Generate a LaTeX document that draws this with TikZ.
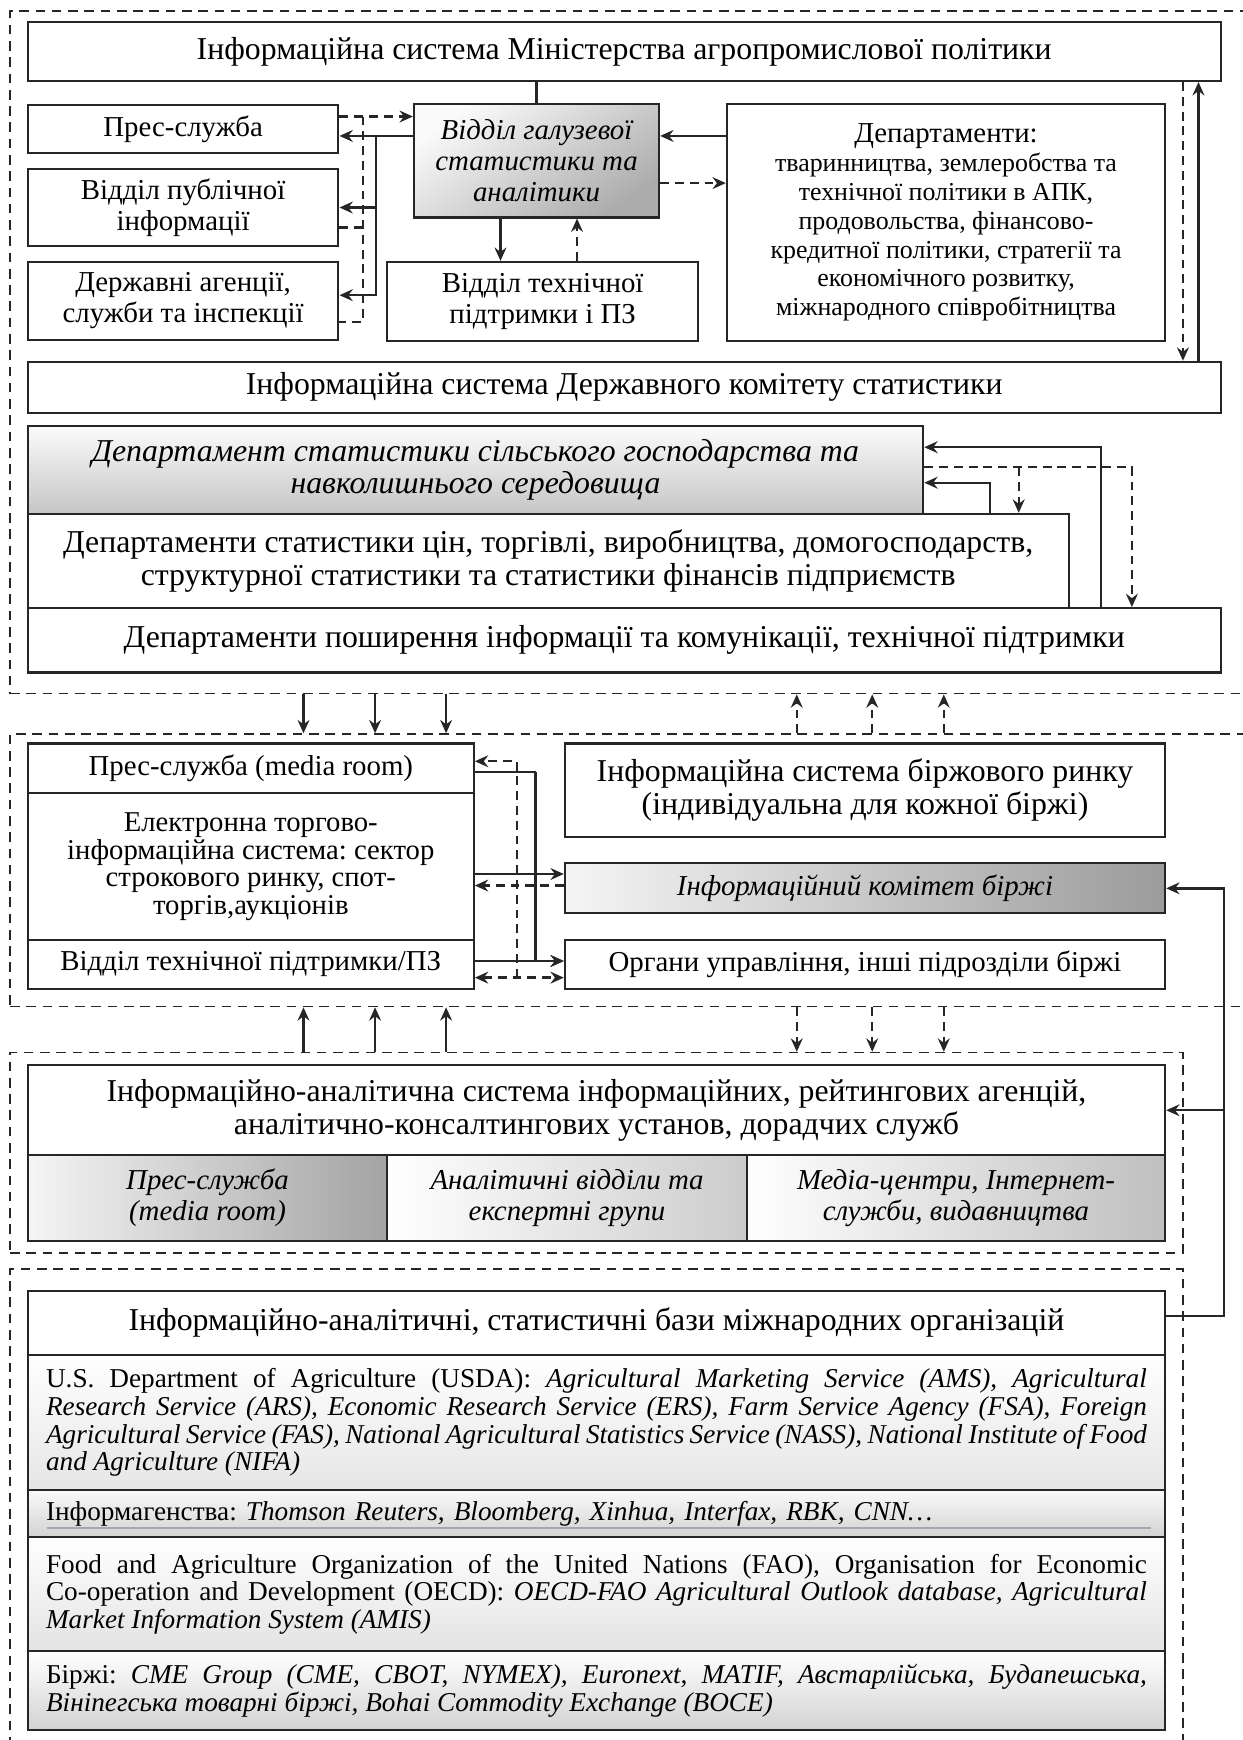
\documentclass[tikz,border=0pt]{standalone}
\usepackage{fontspec}
\setmainfont{Liberation Serif}
\usetikzlibrary{arrows.meta}

\begin{document}
\frenchspacing
\begin{tikzpicture}[x=0.75pt,y=0.75pt,yscale=-1,xscale=1,
  >={Stealth[length=9pt,width=8pt,inset=3pt]},
  box/.style={draw=black!85,line width=1.4pt,fill=white,inner sep=0pt,align=center},
  grpframe/.style={draw=black!85,line width=1.1pt,dash pattern=on 6.5pt off 4.5pt,inner sep=0pt},
  lnk/.style={draw=black!85,line width=1.6pt},
  dlnk/.style={lnk,dash pattern=on 6pt off 4pt},
  big/.style={font=\fontsize{21.5}{22}\selectfont},
  bigit/.style={font=\fontsize{21.5}{22}\selectfont\itshape},
  mid/.style={font=\fontsize{19.5}{21}\selectfont},
  midit/.style={font=\fontsize{19.5}{21}\selectfont\itshape},
  sml/.style={font=\fontsize{18.4}{18.75}\selectfont},
  introw/.style={box,sml,text width=744pt,align=justify,minimum width=768.75pt},
]
\useasboundingbox (0,0) rectangle (1120,1568);

%Shape: Rectangle (dashed groups)
\node[grpframe,minimum width=848.25pt,minimum height=461.25pt] (g1) at (574.5,317.5) {};
\node[grpframe,minimum width=848.25pt,minimum height=184.125pt] (g2) at (574.5,784.25) {};
\node[grpframe,minimum width=792.75pt,minimum height=135.375pt] (g3) at (537.5,1038.75) {};
\node[grpframe,minimum width=792.75pt,minimum height=342.3pt] (g4) at (537.5,1371.8) {};

%Shape: Rectangle (ministry)
\node[box,big,minimum width=806.25pt,minimum height=39.75pt] (minis) at (562.5,46.5) {Інформаційна система Міністерства агропромислової політики};
\node[box,mid,minimum width=210pt,minimum height=32.25pt] (press) at (165,116.5) {Прес-служба};
\node[box,mid,minimum width=210pt,minimum height=52.5pt] (pubinfo) at (165,187) {Відділ публічної\\інформації};
\node[box,mid,minimum width=210pt,minimum height=52.5pt] (agencies) at (165,271) {Державні агенції,\\служби та інспекції};
\node[box,midit,minimum width=165.75pt,minimum height=76.5pt,top color=gray!4,bottom color=gray!65,shading angle=35] (galuz) at (483.5,145) {Відділ галузевої\\статистики та\\аналітики};
\node[box,mid,minimum width=210pt,minimum height=53.25pt] (techsup) at (489,271.5) {Відділ технічної\\підтримки і ПЗ};
\node[box,minimum width=296.25pt,minimum height=159.75pt,font=\fontsize{17.5}{19.5}\selectfont] (depts) at (852.5,200.5) {{\fontsize{19.5}{19.5}\selectfont Департаменти:}\\тваринництва, землеробства та\\технічної політики в АПК,\\продовольства, фінансово-\\кредитної політики, стратегії та\\економічного розвитку,\\міжнародного співробітництва};

%Shape: Rectangle (statistics committee)
\node[box,big,minimum width=806.25pt,minimum height=34.5pt] (dks) at (562.5,349) {Інформаційна система Державного комітету статистики};
\node[box,bigit,minimum width=605.25pt,minimum height=59.25pt,top color=gray!3,bottom color=gray!45] (agri) at (428.5,423.5) {Департамент статистики сільського господарства та\\навколишнього середовища};
\node[box,big,minimum width=703.5pt,minimum height=63.75pt] (prices) at (494,505.5) {Департаменти статистики цін, торгівлі, виробництва, домогосподарств,\\структурної статистики та статистики фінансів підприємств};
\node[box,big,minimum width=806.25pt,minimum height=43.5pt] (dissem) at (562.5,577) {Департаменти поширення інформації та комунікації, технічної підтримки};

%Shape: Rectangle (exchange)
\node[box,mid,minimum width=301.5pt,minimum height=33.75pt] (pressm) at (226,692.5) {Прес-служба (media room)};
\node[box,minimum width=301.5pt,minimum height=99pt,font=\fontsize{19.4}{18.75}\selectfont] (etis) at (226,781) {Електронна торгово-\\інформаційна система: сектор\\строкового ринку, спот-\\торгів,аукціонів};
\node[box,mid,minimum width=301.5pt,minimum height=33pt] (techm) at (226,869) {Відділ технічної підтримки/ПЗ};
\node[box,big,minimum width=405.75pt,minimum height=63pt] (excsys) at (779.5,712) {Інформаційна система біржового ринку\\(індивідуальна для кожної біржі)};
\node[box,midit,minimum width=405.75pt,minimum height=33.75pt,left color=gray!8,right color=gray!78] (infocom) at (779.5,800.5) {Інформаційний комітет біржі};
\node[box,mid,minimum width=405.75pt,minimum height=33pt] (organs) at (779.5,869) {Органи управління, інші підрозділи біржі};

%Shape: Rectangle (agencies)
\node[box,big,minimum width=768.75pt,minimum height=60.75pt] (analytic) at (537.5,1000.5) {Інформаційно-аналітична система інформаційних, рейтингових агенцій,\\аналітично-консалтингових установ, дорадчих служб};
\node[box,midit,minimum width=243pt,minimum height=57.75pt,left color=gray!8,right color=gray!72] (cpress) at (187,1079.5) {Прес-служба\\(media room)};
\node[box,midit,minimum width=243pt,minimum height=57.75pt,left color=white,right color=gray!40] (canal) at (511,1079.5) {Аналітичні відділи та\\експертні групи};
\node[box,midit,minimum width=282.75pt,minimum height=57.75pt,left color=white,right color=gray!50] (cmedia) at (861.5,1079.5) {Медіа-центри, Інтернет-\\служби, видавництва};

%Shape: Rectangle (international)
\node[box,big,minimum width=768.75pt,minimum height=43.5pt] (intl) at (537.5,1192) {Інформаційно-аналітичні, статистичні бази міжнародних організацій};
\node[introw,minimum height=91.5pt,top color=white,bottom color=gray!20] (usda) at (537.5,1282) {U.S. Department of Agriculture (USDA): \textit{Agricultural Marketing Service (AMS), Agricultural\linebreak Research Service (ARS), Economic Research Service (ERS), Farm Service Agency (FSA), Foreign\linebreak Agricultural Service (FAS), National Agricultural Statistics Service (NASS), National Institute of Food\linebreak and Agriculture (NIFA)}};
\node[introw,align=left,minimum height=31.5pt,top color=gray!4,bottom color=gray!35] (infag) at (537.5,1364) {Інформагенства: \textit{Thomson Reuters, Bloomberg, Xinhua, Interfax, RBK, CNN…}};
\node[introw,minimum height=77.25pt,top color=white,bottom color=gray!22] (fao) at (537.5,1436.5) {Food and Agriculture Organization of the United Nations (FAO), Organisation for Economic\linebreak Co-operation and Development (OECD): \textit{OECD-FAO Agricultural Outlook database, Agricultural\linebreak Market Information System (AMIS)}};
\node[introw,minimum height=53.25pt,top color=white,bottom color=gray!35] (birzh) at (537.5,1523.5) {Біржі: \textit{CME Group (CME, CBOT, NYMEX), Euronext, MATIF, Австарлійська, Будапешська,\linebreak Вініпегська товарні біржі, Bohai Commodity Exchange (BOCE)}};
\draw [color={rgb, 255:red, 160; green, 168; blue, 178 }, line width=1.5pt] ([xshift=13.5pt,yshift=-6.75pt]infag.south west) -- ([xshift=-10.5pt,yshift=-6.75pt]infag.south east);

%Straight Lines (ministry)
\draw[lnk] (galuz.north |- minis.south) -- (galuz.north);
\draw[lnk,->] (galuz.west |- 0,122.5) -- (press.east |- 0,122.5);
\coordinate (sp) at (339,122.5);
\draw[lnk,->] (sp) |- (pubinfo.east);
\draw[lnk,->] (sp) |- (agencies.east |- 0,266);
\draw[dlnk,->] (press.east |- 0,105) -- (galuz.west |- 0,105);
\coordinate (dp) at (327,105);
\draw[dlnk] (dp) |- (agencies.east |- 0,290);
\draw[dlnk] (pubinfo.east |- 0,205) -- (dp |- 0,205);
\draw[lnk,->] (451,0 |- galuz.south) -- (451,0 |- techsup.north);
\draw[dlnk,->] (520,0 |- techsup.north) -- (520,0 |- galuz.south);
\draw[lnk,->] (depts.west |- 0,122.5) -- (galuz.east |- 0,122.5);
\draw[dlnk,->] (galuz.east |- 0,165) -- (depts.west |- 0,165);
\draw[dlnk,->] (1066,0 |- minis.south) -- (1066,0 |- dks.north);
\draw[lnk,->] (1080,0 |- dks.north) -- (1080,0 |- minis.south);

%Straight Lines (statistics committee)
\draw[lnk,->] (992,0 |- dissem.north) |- (agri.east |- 0,403);
\draw[lnk,->] (892,0 |- prices.north) |- (agri.east |- 0,435);
\draw[dlnk,->] (agri.east |- 0,421) -| (1020,0 |- dissem.north);
\coordinate (ad) at (918,421);
\draw[dlnk,->] (ad) -- (ad |- prices.north);

%Straight Lines (exchange)
\coordinate (ms) at (482.6,695.6);
\draw[lnk] (pressm.east |- ms) -- (ms);
\draw[lnk,->] (ms) |- (organs.west |- 0,866);
\draw[lnk,->] (techm.east |- 0,866) -- (organs.west |- 0,866);
\draw[lnk,->] (etis.east |- 0,787.6) -- (infocom.west |- 0,787.6);
\draw[dlnk,->] (infocom.west |- 0,798) -- (etis.east |- 0,798);
\coordinate (md) at (466,881);
\draw[dlnk,->] (md) |- (pressm.east |- 0,686);
\draw[dlnk,<->] (techm.east |- md) -- (organs.west |- md);

%Straight Lines (right return line)
\coordinate (rr) at (1103,1186);
\draw[lnk,->] (intl.east |- rr) -- (rr) |- (infocom.east);
\draw[lnk,->] (rr |- analytic.east) -- (analytic.east);

%Straight Lines (between groups)
\foreach \x in {273.5,338,402}{
  \draw[lnk,->] (\x,0 |- g1.south) -- (\x,0 |- g2.north);
  \draw[lnk,->] (\x,0 |- g3.north) -- (\x,0 |- g2.south);
}
\foreach \x in {718,786,850.5}{
  \draw[dlnk,->] (\x,0 |- g2.north) -- (\x,0 |- g1.south);
  \draw[dlnk,->] (\x,0 |- g2.south) -- (\x,0 |- g3.north);
}

\end{tikzpicture}
\end{document}
